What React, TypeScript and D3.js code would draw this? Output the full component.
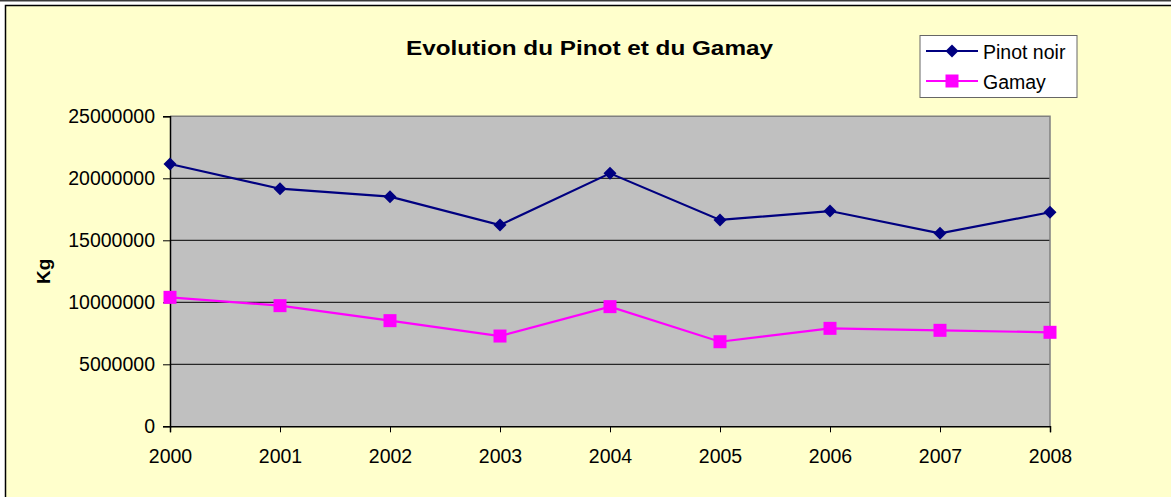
import React, { useEffect, useRef } from "react";
import * as d3 from "d3";

const years = ["2000", "2001", "2002", "2003", "2004", "2005", "2006", "2007", "2008"];
const pinotNoir = [21150000, 19160000, 18520000, 16230000, 20400000, 16640000, 17360000, 15560000, 17260000];
const gamay = [10400000, 9730000, 8520000, 7280000, 9650000, 6820000, 7900000, 7740000, 7580000];
const yTicks = [0, 5000000, 10000000, 15000000, 20000000, 25000000];

const W = 1171;
const H = 497;
const FONT = "Arial, 'Liberation Sans', sans-serif";
const FS = 19.5;

const App: React.FC = () => {
  const ref = useRef<SVGSVGElement | null>(null);

  useEffect(() => {
    document.body.style.margin = "0";
    const svg = d3.select(ref.current);
    svg.selectAll("*").remove();

    // background and frame
    svg.append("rect").attr("width", W).attr("height", H).attr("fill", "#ffffff");
    svg.append("rect").attr("x", 0).attr("y", 0).attr("width", W).attr("height", 1.5).attr("fill", "#3a3a3a");
    svg
      .append("rect")
      .attr("x", 5.5)
      .attr("y", 5.5)
      .attr("width", W + 10)
      .attr("height", H + 10)
      .attr("fill", "#ffffcc")
      .attr("stroke", "#000")
      .attr("stroke-width", 1.5);

    const left = 170;
    const right = 1050;
    const top = 116.3;
    const bottom = 426.3;

    const x = d3.scalePoint<string>().domain(years).range([left, right]);
    const y = d3.scaleLinear().domain([0, 25000000]).range([bottom, top]);

    // plot area
    svg
      .append("rect")
      .attr("x", left)
      .attr("y", top)
      .attr("width", right - left)
      .attr("height", bottom - top)
      .attr("fill", "#c0c0c0");

    // gridlines
    svg
      .append("g")
      .selectAll("line")
      .data(yTicks.filter((t) => t > 0 && t < 25000000))
      .join("line")
      .attr("x1", left)
      .attr("x2", right)
      .attr("y1", (d) => y(d))
      .attr("y2", (d) => y(d))
      .attr("stroke", "#000")
      .attr("stroke-width", 1);

    // top/right border
    svg
      .append("path")
      .attr("d", `M${left},${top}H${right}V${bottom}`)
      .attr("fill", "none")
      .attr("stroke", "#808080")
      .attr("stroke-width", 1.5);

    // axes
    const yAxis = d3
      .axisLeft(y)
      .tickValues(yTicks)
      .tickSize(7)
      .tickPadding(8)
      .tickFormat((d) => String(d));
    const gy = svg.append("g").attr("transform", `translate(${left},0)`).call(yAxis);
    gy.select(".domain").attr("stroke", "#000").attr("stroke-width", 1.5);
    gy.selectAll("text").attr("font-family", FONT).attr("font-size", FS).attr("fill", "#000");

    const xAxis = d3.axisBottom(x).tickSize(6);
    const gx = svg.append("g").attr("transform", `translate(0,${bottom})`).call(xAxis);
    gx.select(".domain").attr("stroke", "#000").attr("stroke-width", 1.5);
    gx.selectAll("text")
      .attr("font-family", FONT)
      .attr("font-size", FS)
      .attr("fill", "#000")
      .attr("y", 37)
      .attr("dy", 0);

    // series
    const series = [
      { name: "Pinot noir", values: pinotNoir, color: "#000080", shape: "diamond" },
      { name: "Gamay", values: gamay, color: "#ff00ff", shape: "square" },
    ];

    const line = d3
      .line<number>()
      .x((_, i) => x(years[i]) as number)
      .y((d) => y(d));

    const diamond = (cx: number, cy: number) => `M${cx},${cy - 6.5}L${cx + 6.5},${cy}L${cx},${cy + 6.5}L${cx - 6.5},${cy}Z`;

    series.forEach((s) => {
      svg
        .append("path")
        .attr("d", line(s.values))
        .attr("fill", "none")
        .attr("stroke", s.color)
        .attr("stroke-width", 2.2);
      const g = svg.append("g");
      if (s.shape === "diamond") {
        g.selectAll("path")
          .data(s.values)
          .join("path")
          .attr("d", (d, i) => diamond(x(years[i]) as number, y(d)))
          .attr("fill", s.color);
      } else {
        g.selectAll("rect")
          .data(s.values)
          .join("rect")
          .attr("x", (_, i) => (x(years[i]) as number) - 6.5)
          .attr("y", (d) => y(d) - 6.5)
          .attr("width", 13)
          .attr("height", 13)
          .attr("fill", s.color);
      }
    });

    // title
    svg
      .append("text")
      .attr("x", 589.5)
      .attr("y", 55)
      .attr("text-anchor", "middle")
      .attr("font-family", FONT)
      .attr("font-size", 20)
      .attr("font-weight", "bold")
      .attr("textLength", 367)
      .attr("lengthAdjust", "spacingAndGlyphs")
      .text("Evolution du Pinot et du Gamay");

    // y label
    svg
      .append("text")
      .attr("transform", `translate(50,${(top + bottom) / 2}) rotate(-90)`)
      .attr("text-anchor", "middle")
      .attr("font-family", FONT)
      .attr("font-size", 19)
      .attr("font-weight", "bold")
      .text("Kg");

    // legend
    const lg = svg.append("g");
    lg.append("rect")
      .attr("x", 920)
      .attr("y", 35.5)
      .attr("width", 157)
      .attr("height", 62)
      .attr("fill", "#fff")
      .attr("stroke", "#666")
      .attr("stroke-width", 1);
    series.forEach((s, i) => {
      const cy = 51 + i * 30;
      lg.append("line")
        .attr("x1", 926)
        .attr("x2", 978)
        .attr("y1", cy)
        .attr("y2", cy)
        .attr("stroke", s.color)
        .attr("stroke-width", 2.2);
      if (s.shape === "diamond") {
        lg.append("path").attr("d", diamond(952, cy)).attr("fill", s.color);
      } else {
        lg.append("rect")
          .attr("x", 945.5)
          .attr("y", cy - 6.5)
          .attr("width", 13)
          .attr("height", 13)
          .attr("fill", s.color);
      }
      lg.append("text")
        .attr("x", 983)
        .attr("y", cy + 7.5)
        .attr("font-family", FONT)
        .attr("font-size", FS)
        .text(s.name);
    });
  }, []);

  return <svg ref={ref} width={W} height={H} style={{ display: "block" }} />;
};

export default App;
